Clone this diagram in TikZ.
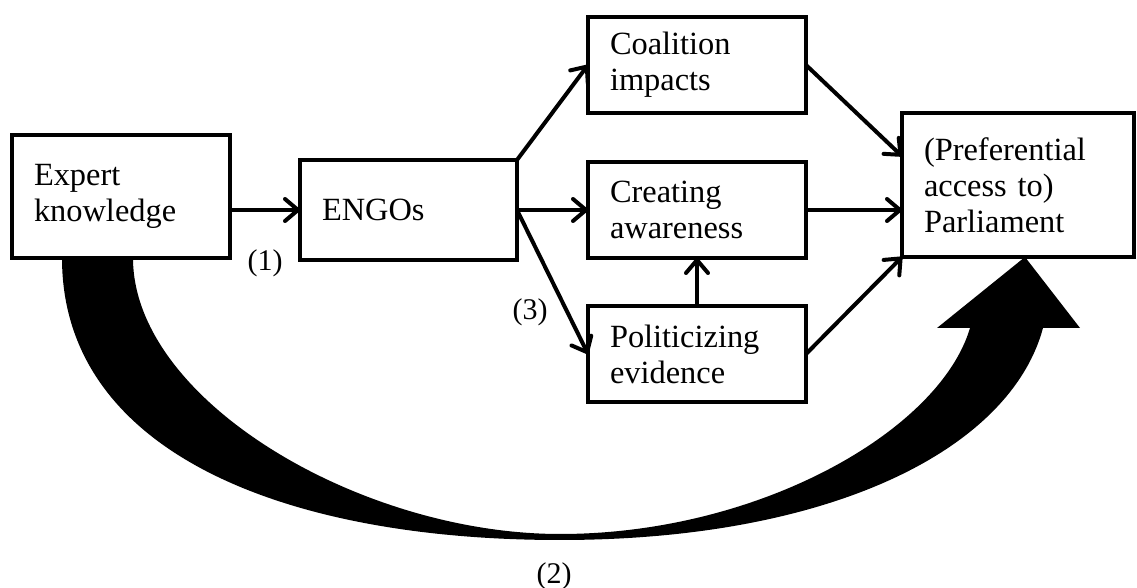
\documentclass[tikz,border=0pt]{standalone}
\usepackage{fontspec}
\setmainfont{Liberation Serif}
\usetikzlibrary{arrows.meta, positioning, calc}
\tikzset{
    blockbox/.style={
        draw,
        line width=2.2pt,
        align=left,
        outer sep=0pt,
        inner xsep=11pt,
        text width=87pt,
        minimum height=48pt,
        font=\fontsize{16.2}{18}\selectfont
    },
    flow/.style={-{Straight Barb[length=6.5pt, width=11pt, round]}, line width=2pt},
    numlabel/.style={font=\fontsize{15}{17}\selectfont, inner sep=0pt},
    bigarrow/.style={fill=black}
}
\begin{document}
\begin{tikzpicture}[x=0.5pt, y=-0.5pt]
    \useasboundingbox (0,0) rectangle (1137,588);

    \node[blockbox, minimum height=61.5pt] (expert) at (121,196.5) {Expert\\knowledge\\[6pt]};
    \node[blockbox, text width=86.5pt, minimum height=50pt, right=35pt of expert, yshift=-6.75pt] (engos) {ENGOs};
    \node[blockbox, right=35.5pt of engos] (creating) {Creating\\awareness};
    \node[blockbox, above=24.5pt of creating] (coalition) {Coalition\\impacts};
    \node[blockbox, below=24pt of creating] (politicizing) {Politicizing\\evidence};
    \node[blockbox, text width=94pt, minimum height=72pt, right=48pt of creating, yshift=12.5pt] (parliament) {(Preferential\\access to)\\Parliament};

    \draw[flow] (expert.east |- engos.west) -- (engos.west);
    \draw[flow] (engos.north east) -- (coalition.west);
    \draw[flow] (engos.east) -- (creating.west);
    \draw[flow] (engos.east) -- (politicizing.west);
    \draw[flow] (politicizing.north) -- (creating.south);
    \draw[flow] (coalition.east) -- ($(parliament.north west)!0.3!(parliament.south west)$);
    \draw[flow] (creating.east) -- (parliament.west |- creating.east);
    \draw[flow] (politicizing.east) -- (parliament.south west);

    \fill[bigarrow] ($(expert.south west)+(50,0)$) .. controls (62,450) and (280,540) .. (560,540) coordinate (bend)
        .. controls (830,540) and (1010,450) .. (1043,328) -- (1080,328) -- ($(parliament.south)+(7,0)$)
        -- (937,328) -- (970,328) .. controls (940,430) and (760,534) .. (560,534)
        .. controls (360,534) and (133,400) .. ($(expert.south)+(12,0)$) -- cycle;

    \node[numlabel] (one) at ($(engos.south west)+(-35,3)$) {(1)};
    \node[numlabel] (three) at ($(politicizing.north west)+(-58,6)$) {(3)};
    \node[numlabel] (two) at ($(bend)+(-6,36)$) {(2)};
\end{tikzpicture}
\end{document}
